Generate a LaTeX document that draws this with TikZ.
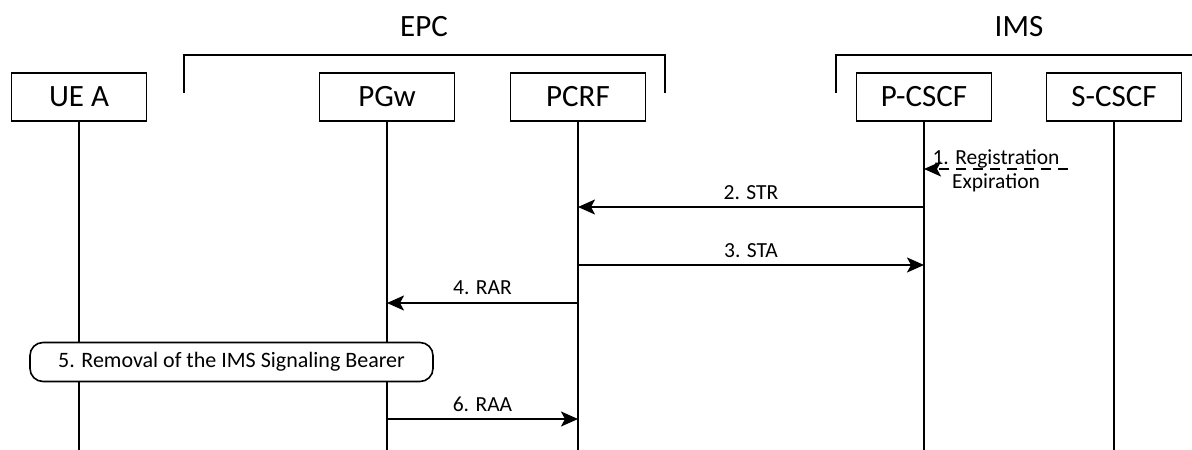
\documentclass[tikz,border=0pt]{standalone}
\usepackage{fontspec}
\setmainfont{Carlito}
\usetikzlibrary{arrows.meta}
\begin{document}
\begin{tikzpicture}[x=1pt,y=-1pt,
  entity/.style={draw, line width=1.6pt, minimum width=135pt, minimum height=48pt,
    inner sep=0pt, font=\fontsize{31}{36}\selectfont},
  grouplabel/.style={font=\fontsize{31}{36}\selectfont, inner sep=0pt},
  bracket/.style={line width=1.5pt},
  lifeline/.style={line width=1.6pt},
  msg/.style={line width=2pt, -{Stealth[length=17pt,width=15pt,inset=4pt]}},
  dmsg/.style={msg, dash pattern=on 10pt off 7pt},
  msglabel/.style={font=\fontsize{21.5}{24}\selectfont, inner sep=0pt},
  procbox/.style={draw, line width=1.6pt, rounded corners=13pt, fill=white,
    minimum width=403pt, minimum height=39pt, inner sep=0pt,
    font=\fontsize{22}{26}\selectfont}]
\useasboundingbox (0,0) rectangle (1192,450);

% group headings and brackets
\node[grouplabel] (epc) at (424,27) {EPC};
\node[grouplabel] (ims) at (1019,27) {IMS};
\draw[bracket] (184,93) -- (184,55) -- (665,55) -- (665,93);
\draw[bracket] (836,93) -- (836,55) -- (1194,55);

% entities
\node[entity] (ue)    at (79,97)   {UE A};
\node[entity] (pgw)   at (387,97)  {PGw};
\node[entity] (pcrf)  at (578,97)  {PCRF};
\node[entity] (pcscf) at (924,97)  {P-CSCF};
\node[entity] (scscf) at (1114,97) {S-CSCF};

% lifelines
\coordinate (bottom) at (0,452);
\foreach \e in {ue,pgw,pcrf,pcscf,scscf}
  \draw[lifeline] (\e.south) -- (\e.south |- bottom);

% message rows
\coordinate (r1) at (0,169);
\coordinate (r2) at (0,207);
\coordinate (r3) at (0,265);
\coordinate (r4) at (0,303);
\coordinate (r5) at (0,362);
\coordinate (r6) at (0,419);

% 1. registration expiry
\coordinate (regstart) at (1068,169);
\draw[dmsg] (regstart) -- (pcscf |- r1);
\node[msglabel, align=center] (reg) at (996,171) {1. Registration\\Expiration};

% 2.-4. messages
\draw[msg] (pcscf |- r2) -- node[msglabel, yshift=14pt] (str) {2. STR} (pcrf |- r2);
\draw[msg] (pcrf |- r3) -- node[msglabel, yshift=14pt] (sta) {3. STA} (pcscf |- r3);
\draw[msg] (pcrf |- r4) -- node[msglabel, yshift=15pt] (rar) {4. RAR} (pgw |- r4);

% 5. bearer removal
\node[procbox] (removal) at (231.5,362) {5. Removal of the IMS Signaling Bearer};

% 6. answer
\draw[msg] (pgw |- r6) -- node[msglabel, yshift=15pt] (raa) {6. RAA} (pcrf |- r6);
\end{tikzpicture}
\end{document}
